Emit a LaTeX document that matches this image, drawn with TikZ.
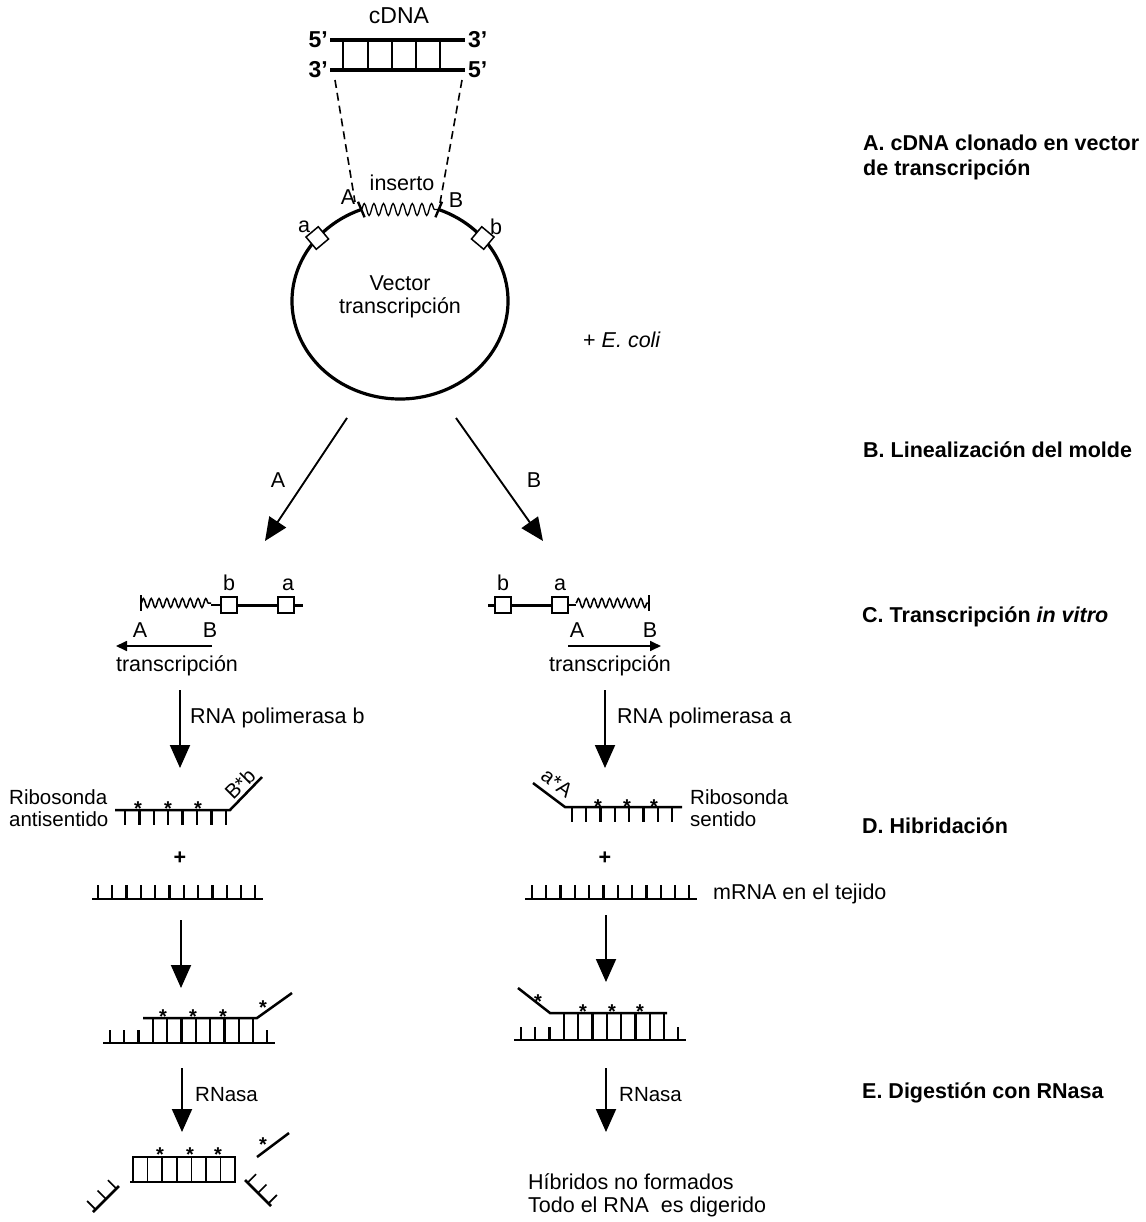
\documentclass[tikz,border=0pt]{standalone}
\usepackage{fontspec}
\setmainfont{Liberation Sans}
\usetikzlibrary{arrows.meta,decorations.pathmorphing,calc}
\tikzset{
  txt/.style={font=\fontsize{21.5}{25}\selectfont, inner sep=0pt},
  ltxt/.style={txt, anchor=west},
  btxt/.style={font=\fontsize{21.5}{25}\selectfont\bfseries, inner sep=0pt, anchor=west},
  stxt/.style={font=\fontsize{20.5}{24}\selectfont, inner sep=0pt},
  bigarrow/.style={line width=1.9pt, -{Triangle[length=23pt,width=20pt]}},
  smallarrow/.style={line width=1.7pt, -{Triangle[length=11pt,width=10pt]}},
  backbone/.style={line width=2.5pt},
  rung/.style={line width=2.3pt},
  thinrung/.style={line width=1.7pt},
  site/.style={draw, fill=white, line width=1.5pt, minimum size=16pt, inner sep=0pt},
  wave/.style={decorate, decoration={snake, segment length=7.8pt, amplitude=4.5pt}, line width=1.5pt},
  bigwave/.style={decorate, decoration={snake, segment length=9.6pt, amplitude=6pt}, line width=1.3pt},
  astr/.style={font=\fontsize{20}{20}\selectfont\bfseries, inner sep=0pt, anchor=base},
}
\begin{document}
\begin{tikzpicture}[x=1pt,y=-1pt]
\fill[white] (0,0) rectangle (1145,1222);
\useasboundingbox (0,0) rectangle (1145,1222);

% ---------- cDNA ----------
\node[txt, font=\fontsize{23}{27}\selectfont] (cdna) at (399,16) {cDNA};
\coordinate (t1) at (330,40); \coordinate (t2) at (465,40);
\coordinate (b1) at (330,70); \coordinate (b2) at (465,70);
\draw[line width=3.2pt] (t1) -- (t2);
\draw[line width=3.2pt] (b1) -- (b2);
\foreach \x in {343,368,392,416,440} \draw[line width=1.6pt] (\x,40) -- (\x,70);
\node[btxt, anchor=east, font=\fontsize{23}{27}\selectfont\bfseries] (l5a) at (328,40) {5’};
\node[btxt, anchor=east, font=\fontsize{23}{27}\selectfont\bfseries] (l3a) at (328,70) {3’};
\node[btxt, font=\fontsize{23}{27}\selectfont\bfseries] (r3a) at (468,40) {3’};
\node[btxt, font=\fontsize{23}{27}\selectfont\bfseries] (r5a) at (468,70) {5’};

% ---------- vector ----------
\coordinate (cc) at (400,301);
\coordinate (iA) at ($(cc)+(249:108 and 98)$);
\coordinate (iB) at ($(cc)+(291:108 and 98)$);
\draw[line width=3.2pt] (iB) arc[start angle=291, end angle=609, x radius=108, y radius=98];
\draw[bigwave] (iA) -- (iB);
\draw[line width=2.4pt] ($(cc)!1.085!(iA)$) -- ($(cc)!0.915!(iA)$);
\draw[line width=2.4pt] ($(cc)!1.085!(iB)$) -- ($(cc)!0.915!(iB)$);
\node[site, rotate=40] (sa) at ($(cc)+(220:108 and 98)$) {};
\node[site, rotate=-40] (sb) at ($(cc)+(320:108 and 98)$) {};
\node[txt] (la) at (304,227) {a};
\node[txt] (lb) at (496,227) {b};
\node[txt] (lA) at (348,197) {A};
\node[txt] (lB) at (456,200) {B};
\node[txt] (ins) at (402,183) {inserto};
\node[txt] (vec1) at (400,283) {Vector};
\node[txt] (vec2) at (400,308) {transcripción};
\coordinate (dl1) at (335,80); \coordinate (dl2) at (355,202);
\coordinate (dr1) at (462,80); \coordinate (dr2) at (440,203);
\draw[line width=1.6pt, dash pattern=on 8pt off 5pt] (dl1) -- (dl2);
\draw[line width=1.6pt, dash pattern=on 8pt off 5pt] (dr1) -- (dr2);
\node[ltxt] (ecoli) at (583,340) {+ \textit{E. coli}};

% ---------- right column ----------
\node[btxt] (secA1) at (863,143) {A. cDNA clonado en vector};
\node[btxt] (secA2) at (863,170) {de transcripción};
\node[btxt] (secB) at (863,450) {B. Linealización del molde};
\node[btxt] (secC) at (862,617) {C. Transcripción \textit{in vitro}};
\node[btxt] (secD) at (862,826) {D. Hibridación};
\node[btxt] (secE) at (862,1093) {E. Digestión con RNasa};

% ---------- B arrows ----------
\coordinate (aL1) at (347,418); \coordinate (aL2) at (265,541);
\coordinate (aR1) at (456,418); \coordinate (aR2) at (543,541);
\draw[bigarrow] (aL1) -- (aL2);
\draw[bigarrow] (aR1) -- (aR2);
\node[txt] (arA) at (278,480) {A};
\node[txt] (arB) at (534,480) {B};

% ---------- C left ----------
\draw[line width=1.5pt] (141,595) -- (141,611);
\draw[wave] (141,603) -- (211,603);
\node[site] (cLb) at (229,605) {};
\node[site] (cLa) at (286,605) {};
\draw[line width=1.7pt] (211,605) -- (cLb);
\draw[line width=3pt] (cLb) -- (cLa);
\draw[line width=3pt] (cLa) -- (303,605);
\node[txt] (cLbl) at (229,583) {b};
\node[txt] (cLal) at (288,585) {a};
\node[txt] (cLA) at (140,630) {A};
\node[txt] (cLB) at (210,630) {B};
\coordinate (tL1) at (212,646); \coordinate (tL2) at (116,646);
\draw[smallarrow] (tL1) -- (tL2);
\node[txt] (trL) at (177,666) {transcripción};

% ---------- C right ----------
\node[site] (cRb) at (503,605) {};
\node[site] (cRa) at (560,605) {};
\draw[line width=3pt] (488,605) -- (cRb);
\draw[line width=3pt] (cRb) -- (cRa);
\draw[line width=1.7pt] (cRa) -- (576,605);
\draw[wave] (576,603) -- (649,603);
\draw[line width=1.5pt] (649,595) -- (649,611);
\node[txt] (cRbl) at (503,583) {b};
\node[txt] (cRal) at (560,585) {a};
\node[txt] (cRA) at (577,630) {A};
\node[txt] (cRB) at (650,630) {B};
\coordinate (tR1) at (568,646); \coordinate (tR2) at (661,646);
\draw[smallarrow] (tR1) -- (tR2);
\node[txt] (trR) at (610,666) {transcripción};

% ---------- polymerase arrows ----------
\coordinate (pL1) at (180,690); \coordinate (pL2) at (180,768);
\coordinate (pR1) at (605,690); \coordinate (pR2) at (605,768);
\draw[bigarrow] (pL1) -- (pL2);
\draw[bigarrow] (pR1) -- (pR2);
\node[ltxt] (polb) at (190,718) {RNA polimerasa b};
\node[ltxt] (pola) at (617,718) {RNA polimerasa a};

% ---------- D left probe ----------
\draw[backbone] (115,810) -- (230,810) -- (262,777);
\foreach \i in {0,...,7} \draw[rung] ({125+14.4*\i},810) -- ++(0,15);
\foreach \x in {138,168,198} \node[astr] at (\x,815) {*};
\node[stxt, rotate=45] (lBb) at (240,784) {B*b};
\node[stxt, anchor=west] (ribL1) at (9,797) {Ribosonda};
\node[stxt, anchor=west] (ribL2) at (9,819) {antisentido};

% ---------- D right probe ----------
\draw[backbone] (533,783) -- (565,807) -- (682,807);
\foreach \i in {0,...,7} \draw[rung] ({572+14.3*\i},807) -- ++(0,15);
\foreach \x in {598,627,654} \node[astr] at (\x,813) {*};
\node[stxt, rotate=-37] (laA) at (557,783) {a*A};
\node[stxt, anchor=west] (ribR1) at (690,797) {Ribosonda};
\node[stxt, anchor=west] (ribR2) at (690,819) {sentido};

% ---------- plus ----------
\node[btxt, anchor=center] (plL) at (180,858) {+};
\node[btxt, anchor=center] (plR) at (605,858) {+};

% ---------- mRNA ----------
\draw[backbone] (92,899) -- (263,899);
\foreach \i in {0,...,11} \draw[rung] ({98+14.3*\i},899) -- ++(0,-14);
\draw[backbone] (525,899) -- (697,899);
\foreach \i in {0,...,11} \draw[rung] ({532+14.3*\i},899) -- ++(0,-14);
\node[ltxt] (mrna) at (713,894) {mRNA en el tejido};

% ---------- hybridisation arrows ----------
\coordinate (hL1) at (181,920); \coordinate (hL2) at (181,988);
\coordinate (hR1) at (606,915); \coordinate (hR2) at (606,982);
\draw[bigarrow] (hL1) -- (hL2);
\draw[bigarrow] (hR1) -- (hR2);

% ---------- hybrid left ----------
\draw[backbone] (103,1043) -- (275,1043);
\foreach \i in {0,...,11} \draw[rung] ({110+14.3*\i},1043) -- ++(0,-13);
\draw[backbone] (143,1018) -- (257,1018) -- (292,993);
\foreach \i in {3,...,10} \draw[rung] ({110+14.3*\i},1018) -- ++(0,25);
\foreach \x in {163,193,223} \node[astr] at (\x,1023) {*};
\node[astr] at (263,1014) {*};

% ---------- hybrid right ----------
\draw[backbone] (514,1040) -- (686,1040);
\foreach \i in {0,...,11} \draw[rung] ({521+14.3*\i},1040) -- ++(0,-13);
\draw[backbone] (518,988) -- (550,1013) -- (667,1013);
\foreach \i in {3,...,10} \draw[rung] ({521+14.3*\i},1013) -- ++(0,27);
\foreach \x in {583,612,640} \node[astr] at (\x,1018) {*};
\node[astr] at (538,1008) {*};

% ---------- RNase arrows ----------
\coordinate (nL1) at (182,1068); \coordinate (nL2) at (182,1132);
\coordinate (nR1) at (606,1068); \coordinate (nR2) at (606,1132);
\draw[bigarrow] (nL1) -- (nL2);
\draw[bigarrow] (nR1) -- (nR2);
\node[stxt, anchor=west] (rnL) at (195,1095) {RNasa};
\node[stxt, anchor=west] (rnR) at (619,1095) {RNasa};

% ---------- digested left ----------
\draw[backbone] (132,1157) -- (236,1157);
\draw[backbone] (130,1182) -- (236,1182);
\foreach \i in {0,...,7} \draw[thinrung] ({133+14.6*\i},1157) -- ({133+14.6*\i},1182);
\foreach \x in {160,190,218} \node[astr] at (\x,1161) {*};
\draw[backbone] (257,1157) -- (289,1133);
\node[astr] at (263,1151) {*};
\coordinate (fl1) at (93,1212); \coordinate (fl2) at (119,1186);
\draw[backbone] (fl1) -- (fl2);
\foreach \t in {0.1,0.5,0.9} \draw[thinrung] ($(fl1)!\t!(fl2)$) -- ++(-8.5,-8.5);
\coordinate (fr1) at (245,1180); \coordinate (fr2) at (271,1206);
\draw[backbone] (fr1) -- (fr2);
\foreach \t in {0.1,0.5,0.9} \draw[thinrung] ($(fr1)!\t!(fr2)$) -- ++(8.5,-8.5);

% ---------- digested right ----------
\node[ltxt] (hib1) at (528,1182) {Híbridos no formados};
\node[ltxt] (hib2) at (528,1207) {Todo el RNA\ \ es digerido};
\end{tikzpicture}
\end{document}
